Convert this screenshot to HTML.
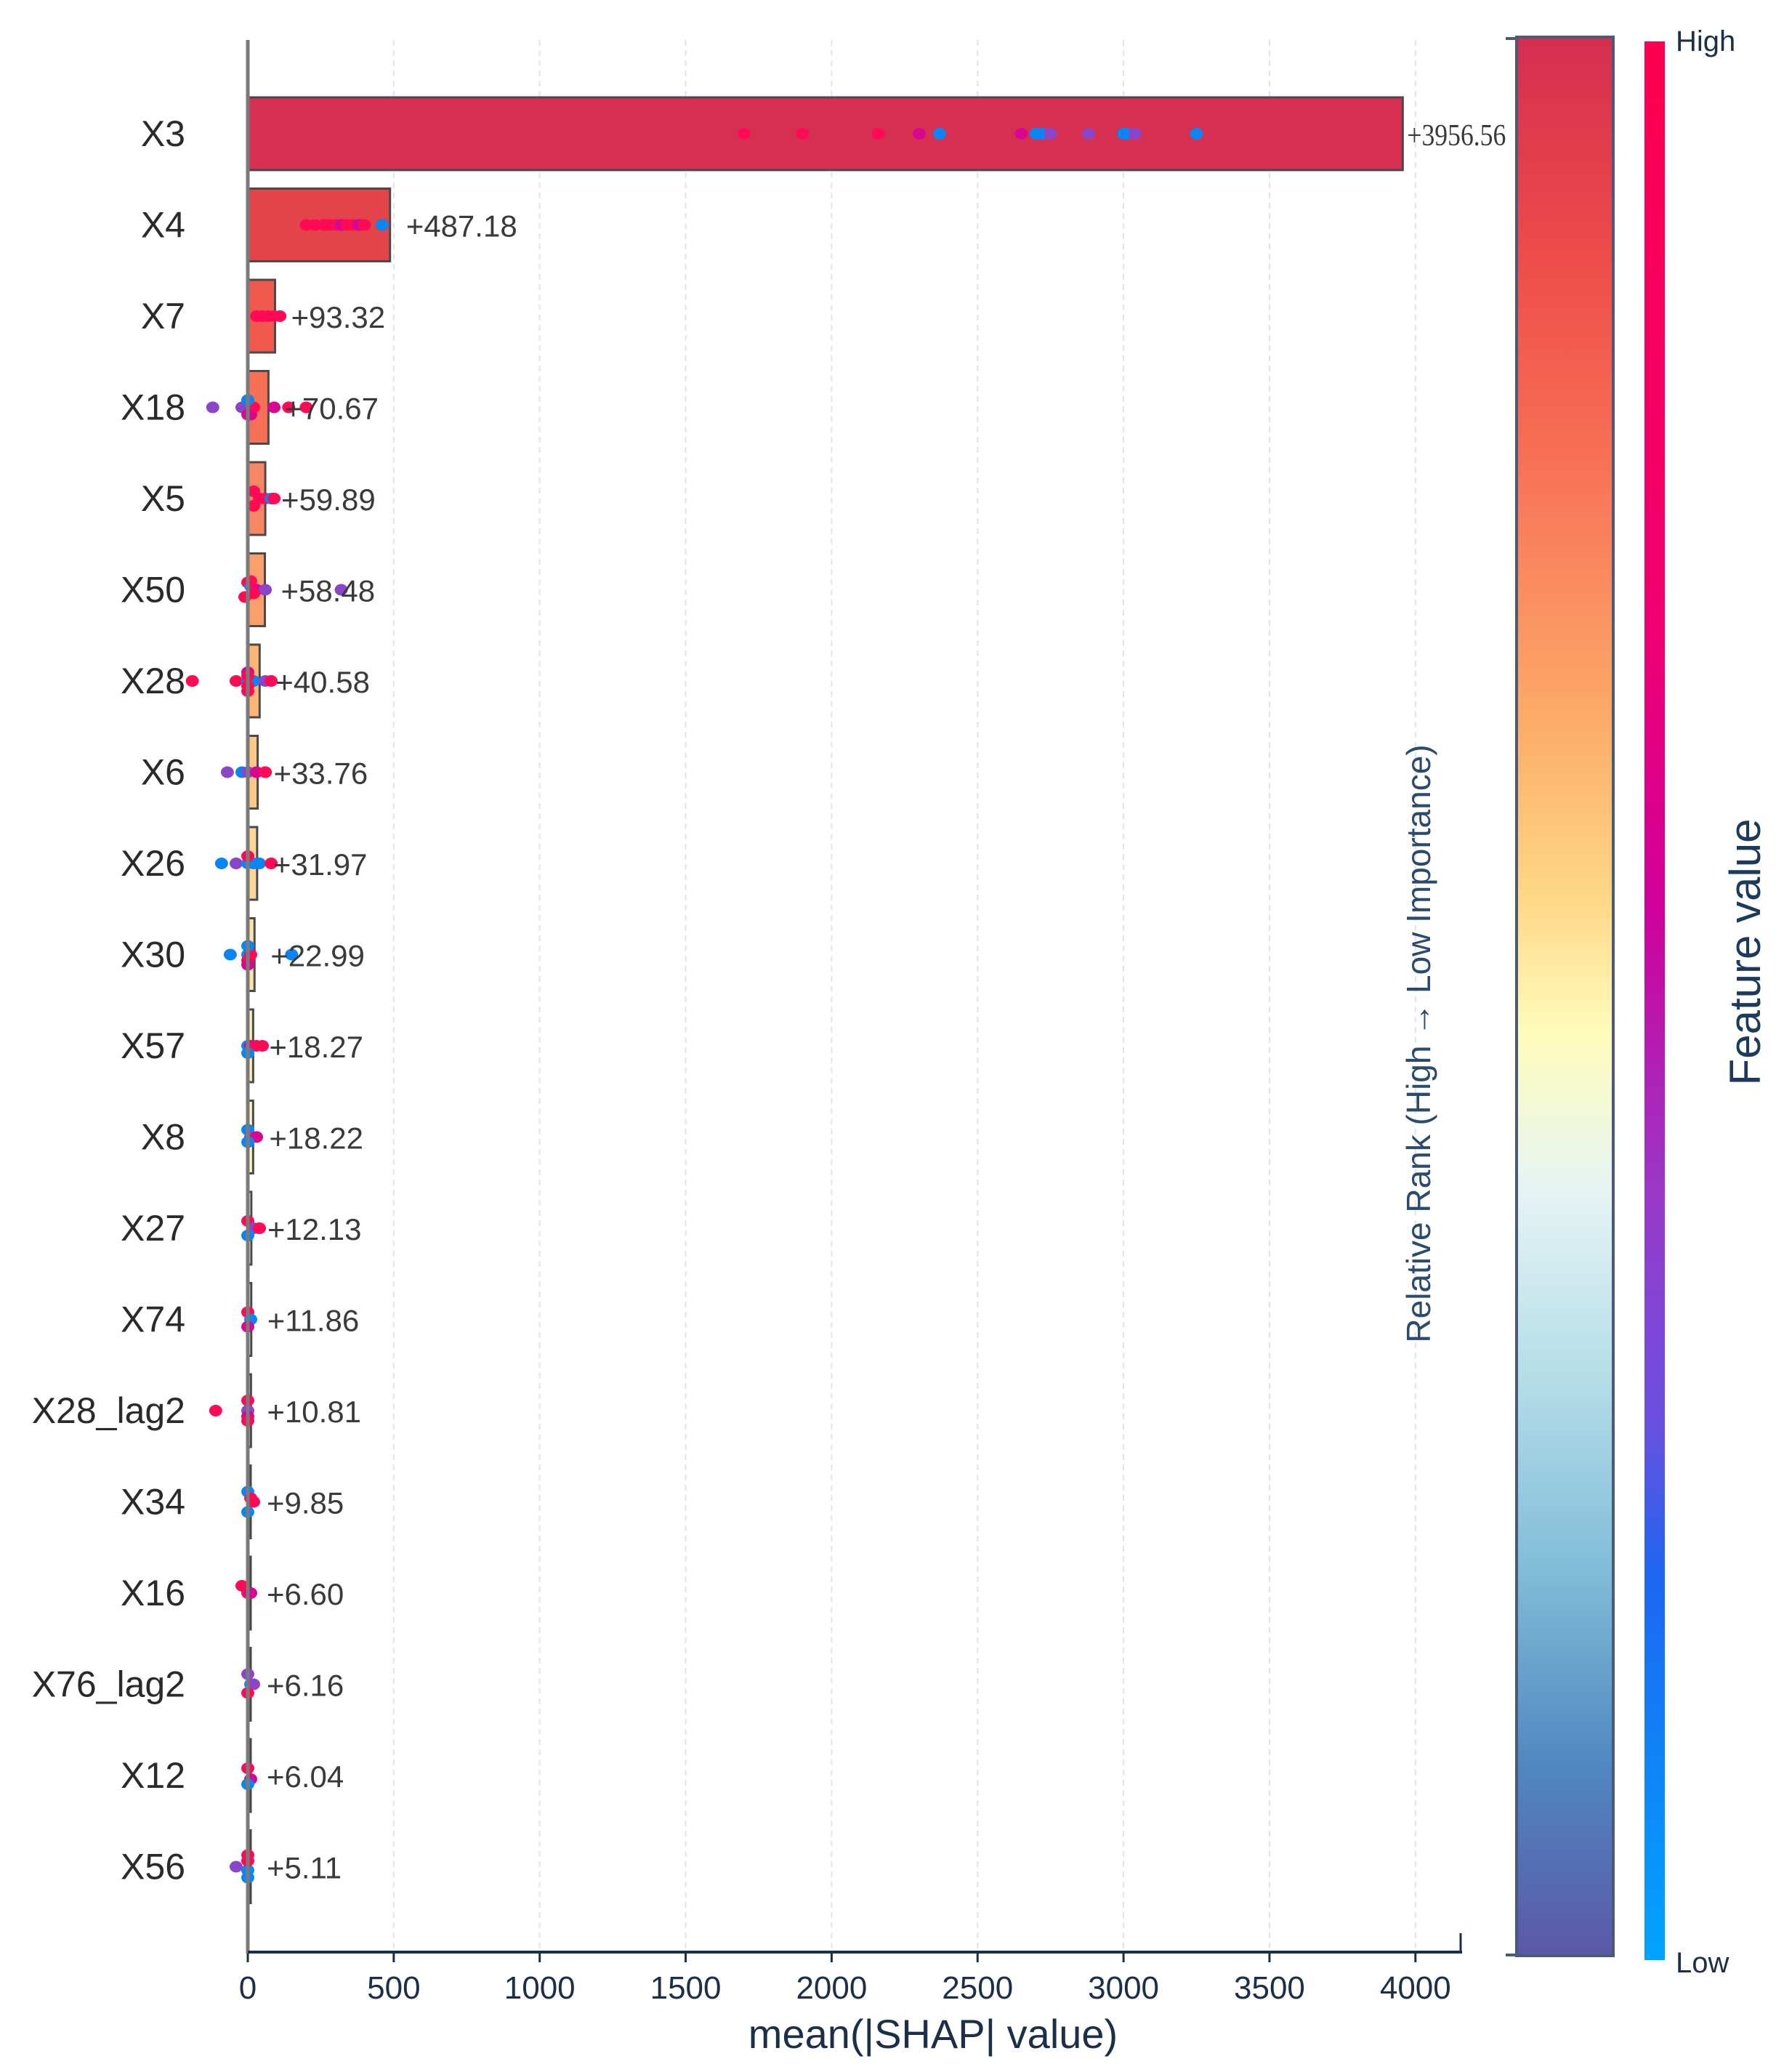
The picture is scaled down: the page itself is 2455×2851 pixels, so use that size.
<!DOCTYPE html>
<html><head><meta charset="utf-8"><style>
html,body{margin:0;padding:0;background:#fff;}
svg{display:block;font-family:"Liberation Sans",sans-serif;}
</style></head><body>
<svg id="chart" width="2455" height="2851" viewBox="0 0 2455 2851" xmlns="http://www.w3.org/2000/svg">
<defs>
<linearGradient id="rankGrad" x1="0" y1="0" x2="0" y2="1">
<stop offset="0" stop-color="#d42e50"/><stop offset="0.12" stop-color="#ee4e4a"/><stop offset="0.22" stop-color="#f87056"/>
<stop offset="0.35" stop-color="#fca868"/><stop offset="0.45" stop-color="#fed888"/><stop offset="0.52" stop-color="#fefcbc"/>
<stop offset="0.6" stop-color="#e6f4f4"/><stop offset="0.7" stop-color="#b4dde8"/><stop offset="0.8" stop-color="#80bcd8"/>
<stop offset="0.9" stop-color="#5088c0"/><stop offset="1" stop-color="#5a58a8"/></linearGradient>
<linearGradient id="featGrad" x1="0" y1="0" x2="0" y2="1">
<stop offset="0" stop-color="#ff0050"/><stop offset="0.3" stop-color="#f00070"/><stop offset="0.45" stop-color="#d0009a"/>
<stop offset="0.6" stop-color="#9a38c8"/><stop offset="0.72" stop-color="#6a50e0"/><stop offset="0.8" stop-color="#1e66f0"/>
<stop offset="1" stop-color="#00a4ff"/></linearGradient>
</defs>
<g id="grid"></g><g id="bars"></g><g id="dots"></g><g id="axes"></g>
<rect x="2087" y="51" width="133" height="2640" fill="url(#rankGrad)" stroke="#4a5a78" stroke-width="4"/>
<line x1="2072" y1="53" x2="2087" y2="53" stroke="#4a5a78" stroke-width="4"/>
<line x1="2072" y1="2690" x2="2087" y2="2690" stroke="#4a5a78" stroke-width="4"/>
<rect x="2263" y="57" width="28" height="2640" fill="url(#featGrad)"/>
<text x="2306" y="70" font-size="40" fill="#1c2f48">High</text>
<text x="2306" y="2714" font-size="40" fill="#1c2f48">Low</text>
<text transform="translate(2422,1310) rotate(-90)" text-anchor="middle" font-size="60" fill="#1c3a5c">Feature value</text>
<text transform="translate(1968,1436) rotate(-90)" text-anchor="middle" font-size="46" fill="#2a4a6e">Relative Rank (High → Low Importance)</text>
<text x="1284" y="2818" text-anchor="middle" font-size="56" fill="#1c2f48">mean(|SHAP| value)</text>
</svg>
<script>
const features=["X3","X4","X7","X18","X5","X50","X28","X6","X26","X30","X57","X8","X27","X74","X28_lag2","X34","X16","X76_lag2","X12","X56"];
const values=[3956.56,487.18,93.32,70.67,59.89,58.48,40.58,33.76,31.97,22.99,18.27,18.22,12.13,11.86,10.81,9.85,6.60,6.16,6.04,5.11];
const barColors=["#d63050","#e2444a","#f05a4e","#f67058","#f88864","#fa9e6c","#fbb676","#fcc888","#fdd698","#fee4ac","#fef0bc","#fdf6c8","#f4f8d8","#e8f4f0","#d8eef2","#c8e6ee","#b8deea","#a8d6e6","#98cce2","#8cc4de"];
const xTicks=[0,500,1000,1500,2000,2500,3000,3500,4000];
// dots: [featureIndex, shapValue, colorCode, verticalJitter(row fraction)]
const dotFeature=[0,0,0,0,0,0,0,0,0,0,0,0,0,0, 1,1,1,1,1,1,1,1,1,1,1, 2,2,2,2,2, 3,3,3,3,3,3,3,3,3,3, 4,4,4,4,4,4,4, 5,5,5,5,5,5,5,5, 6,6,6,6,6,6,6,6,6,6, 7,7,7,7,7,7, 8,8,8,8,8,8,8, 9,9,9,9,9,9,9, 10,10,10,10,10, 11,11,11,11, 12,12,12,12, 13,13,13, 14,14,14,14,14, 15,15,15,15, 16,16,16, 17,17,17,17, 18,18,18, 19,19,19,19,19];
const dotValue=[1700,1900,2160,2300,2370,2650,2700,2720,2750,2880,3000,3010,3040,3250, 200,230,260,280,300,320,340,360,380,400,460, 30,50,70,90,110, -120,-20,0,10,20,0,0,90,140,200, 20,40,60,80,90,20,20, 0,10,30,60,20,320,-10,10, -190,-40,0,20,60,80,0,0,0,0, -70,-20,0,30,60,60, -90,-40,0,20,40,80,0, -60,0,10,150,0,0,0, 0,10,30,50,0, 0,10,30,0, 0,20,40,0, 0,10,0, -110,0,0,0,0, 0,10,20,0, -20,0,10, 0,10,20,0, 0,10,0, -40,0,0,0,0];
const dotColor=["p","p","p","m","b","m","b","b","u","u","b","b","u","b", "p","p","p","p","p","m","p","p","m","p","b", "p","p","p","p","p", "u","u","b","m","p","b","m","m","p","p", "p","p","p","b","p","p","p", "p","b","m","u","p","u","p","p", "p","p","b","b","u","p","m","p","p","p", "u","b","u","m","p","p", "b","u","b","b","b","p","p", "b","b","p","b","b","p","m", "b","m","p","p","b", "b","u","m","b", "p","u","p","b", "p","b","m", "p","p","u","m","p", "b","p","p","b", "p","p","m", "u","b","u","p", "p","m","b", "u","p","b","p","b"];
const dotJitter=[0,0,0,0,0,0,0,0,0,0,0,0,0,0, 0,0,0,0,0,0,0,0,0,0,0, 0,0,0,0,0, 0,0,-0.1,0.1,0,-0.1,0.1,0,0,0, -0.1,0,0,0,0,0.1,0.1, -0.1,-0.05,0,0,0.05,0,0.1,-0.12, 0,0,0,0,0,0,-0.12,-0.07,0.07,0.14, 0,0,0,0,0,0, 0,0,0,0,0,0,-0.1, 0,0,0,0,-0.12,0.08,0.14, 0,0,0,0,0.1, -0.1,0,0,0.07, -0.1,0,0,0.1, -0.1,0,0.1, 0,-0.14,0,0.08,0.14, -0.14,-0.05,0,0.14, -0.1,0,0, -0.14,0,0,0.12, -0.1,0.05,0.12, 0,-0.16,0.05,-0.08,0.15];
const colorMap={p:"#ff0a55",m:"#d8078f",u:"#8a45c8",b:"#0a86f4"};
const NS="http://www.w3.org/2000/svg";
const x0=341,xPerUnit=0.4017,yTop=184,rowStep=125.5,barH=100;
function xScale(v){return x0+v*xPerUnit;}
function yScale(i){return yTop+i*rowStep;}
function mk(tag,attrs,parent){const e=document.createElementNS(NS,tag);for(const k in attrs)e.setAttribute(k,attrs[k]);parent.appendChild(e);return e;}
const grid=document.getElementById("grid"),bars=document.getElementById("bars"),dots=document.getElementById("dots"),axes=document.getElementById("axes");
xTicks.forEach((t,i)=>{
 if(t>0){const g=mk("line",{x1:xScale(t),y1:55,x2:xScale(t),y2:2682,stroke:"#e4e4e4","stroke-width":2,"stroke-dasharray":"8 6"},grid);
 
 }
 const tk=mk("line",{x1:xScale(t),y1:2686,x2:xScale(t),y2:2700,stroke:"#1c2f48","stroke-width":3},axes);
 
 
 const tl=mk("text",{x:xScale(t),y:2750,"text-anchor":"middle","font-size":44,fill:"#1c2f48"},axes);
 tl.textContent=t;
 
 
});
features.forEach((f,i)=>{
 const w=Math.max(values[i]*xPerUnit,4);
 const r=mk("rect",{x:x0,y:yScale(i)-barH/2,width:w,height:barH,fill:barColors[i],stroke:"#4a4a4a","stroke-width":3},bars);
 
 
 const l=mk("text",{x:255,y:yScale(i)+17,"text-anchor":"end","font-size":50,fill:"#2a2a2a"},axes);
 l.textContent=f;
 
 
 const attrs={x:x0+w+(i===0?6:22),y:yScale(i)+16,"font-size":42,fill:"#3a3a3a","font-family":i===0?'"Liberation Serif",serif':'"Liberation Sans",sans-serif'};
 if(i===0){attrs.textLength=136;attrs.lengthAdjust="spacingAndGlyphs";}
 const vl=mk("text",attrs,axes);
 vl.textContent="+"+values[i].toFixed(2);
 
 
});
dotValue.forEach((v,k)=>{
 const c=mk("ellipse",{cx:xScale(v),cy:yScale(dotFeature[k])+dotJitter[k]*barH,rx:9,ry:8,fill:colorMap[dotColor[k]]},dots);
 
 
});
const ya=mk("line",{x1:x0,y1:55,x2:x0,y2:2688,stroke:"#7a7a7a","stroke-width":5},axes);


const xa=mk("line",{x1:x0,y1:2686,x2:2012,y2:2686,stroke:"#1c2f48","stroke-width":4},axes);


const xe=mk("line",{x1:2010,y1:2660,x2:2010,y2:2688,stroke:"#1c2f48","stroke-width":3},axes);


</script>
</body></html>
